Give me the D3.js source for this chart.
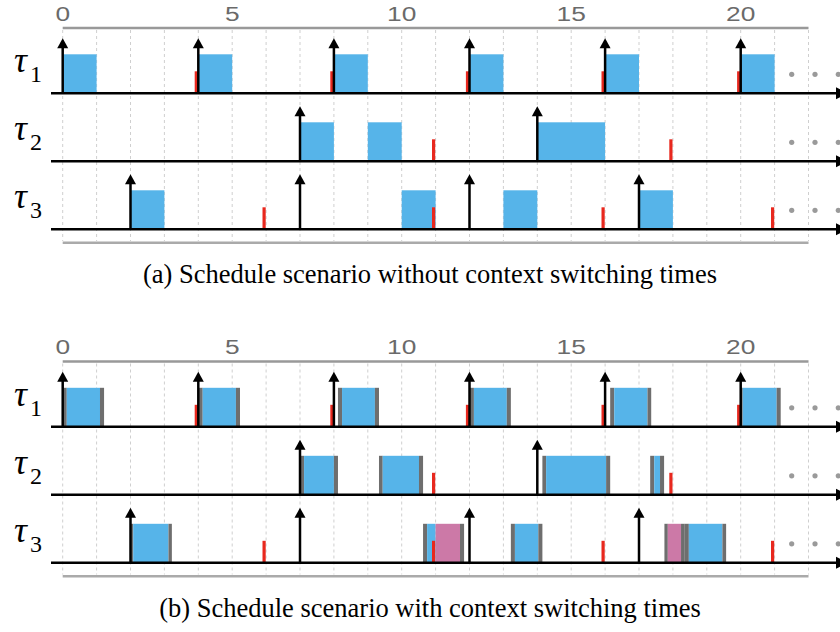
<!DOCTYPE html>
<html>
<head>
<meta charset="utf-8">
<script src="https://cdn.jsdelivr.net/npm/d3@7"></script>
<style>
  body { margin: 0; background: #fff; }
  svg { display: block; }
</style>
</head>
<body>
<script>
// --- data ---
var tickValues = [0, 5, 10, 15, 20];
var taskIds = ["1", "2", "3"];
var releases = [[0, 4, 8, 12, 16, 20], [7, 14], [2, 7, 12, 17]];
var deadlines = [[4, 8, 12, 16, 20], [11, 18], [6, 11, 16, 21]];

// panel (a): plain execution intervals
var execA = [
  [[0, 1], [4, 5], [8, 9], [12, 13], [16, 17], [20, 21]],
  [[7, 8], [9, 10], [14, 16]],
  [[2, 3], [10, 11], [13, 14], [17, 18]]
];

// panel (b): [start, end, kind]  kind: run / cs (context switch) / late
var segB = [
  [[0, 0.12, "cs"], [0.12, 1.1, "run"], [1.1, 1.22, "cs"],
   [4, 4.13, "cs"], [4.13, 5.11, "run"], [5.11, 5.23, "cs"],
   [8.12, 8.24, "cs"], [8.24, 9.21, "run"], [9.21, 9.33, "cs"],
   [12, 12.13, "cs"], [12.13, 13.1, "run"], [13.1, 13.22, "cs"],
   [16.15, 16.27, "cs"], [16.27, 17.25, "run"], [17.25, 17.36, "cs"],
   [20, 20.06, "cs"], [20.06, 21.06, "run"], [21.06, 21.18, "cs"]],
  [[7, 7.12, "cs"], [7.12, 8.0, "run"], [8.0, 8.12, "cs"],
   [9.33, 9.44, "cs"], [9.44, 10.51, "run"], [10.51, 10.63, "cs"],
   [14.15, 14.26, "cs"], [14.26, 16.03, "run"], [16.03, 16.15, "cs"],
   [17.33, 17.45, "cs"], [17.45, 17.62, "run"], [17.62, 17.74, "cs"]],
  [[2, 2.08, "cs"], [2.08, 3.12, "run"], [3.12, 3.22, "cs"],
   [10.63, 10.75, "cs"], [10.75, 11.0, "run"], [11.0, 11.72, "late"], [11.72, 11.84, "cs"],
   [13.22, 13.34, "cs"], [13.34, 14.03, "run"], [14.03, 14.15, "cs"],
   [17.75, 17.85, "cs"], [17.85, 18.24, "late"], [18.24, 18.35, "cs"], [18.35, 18.47, "cs"],
   [18.47, 19.46, "run"], [19.46, 19.57, "cs"]]
];

var captions = [
  "(a) Schedule scenario without context switching times",
  "(b) Schedule scenario with context switching times"
];

// --- layout ---
var width = 840, height = 632;
var panelOffset = [0, 333.5];
var rowBase = [93.3, 161.3, 229.3];
var barH = 39;
var colors = { run: "#56b4e9", cs: "#6e6e6e", late: "#cc79a7" };

var x = d3.scaleLinear().domain([0, 22]).range([62.7, 808.5]);

var svg = d3.select("body").append("svg")
  .attr("width", width)
  .attr("height", height);

function drawPanel(p) {
  var g = svg.append("g").attr("transform", "translate(0," + panelOffset[p] + ")");

  // dotted grid
  g.selectAll(".grid")
    .data(d3.range(0, 23))
    .enter().append("line")
    .attr("x1", function (d) { return x(d); })
    .attr("x2", function (d) { return x(d); })
    .attr("y1", 30)
    .attr("y2", 241)
    .attr("stroke", "#cfcfcf")
    .attr("stroke-width", 1)
    .attr("stroke-dasharray", "3,3");

  // top time axis
  g.append("line")
    .attr("x1", x(0)).attr("x2", x(22))
    .attr("y1", 28).attr("y2", 28)
    .attr("stroke", "#999").attr("stroke-width", 2.5);

  g.selectAll(".tick")
    .data(tickValues)
    .enter().append("text")
    .attr("transform", function (d) { return "translate(" + x(d) + ",20.5) scale(1.35,1)"; })
    .attr("text-anchor", "middle")
    .attr("font-family", "'Liberation Sans', Arial, sans-serif")
    .attr("font-size", 19.5)
    .attr("fill", "#6a6a6a")
    .text(function (d) { return d; });

  // bottom grey line
  g.append("line")
    .attr("x1", x(0)).attr("x2", x(22))
    .attr("y1", 242.7).attr("y2", 242.7)
    .attr("stroke", "#aaa").attr("stroke-width", 2.5);

  taskIds.forEach(function (id, i) {
    var base = rowBase[i];
    var row = g.append("g");

    // execution blocks
    var segs = p == 0
      ? execA[i].map(function (d) { return [d[0], d[1], "run"]; })
      : segB[i];
    row.selectAll(".seg")
      .data(segs)
      .enter().append("rect")
      .attr("x", function (d) { return x(d[0]); })
      .attr("width", function (d) { return x(d[1]) - x(d[0]); })
      .attr("y", base - barH)
      .attr("height", barH)
      .attr("fill", function (d) { return colors[d[2]]; });

    // deadlines
    row.selectAll(".dl")
      .data(deadlines[i])
      .enter().append("rect")
      .attr("x", function (d) { return x(d) - 3.6; })
      .attr("width", 3.2)
      .attr("y", base - 22)
      .attr("height", 22)
      .attr("fill", "#e8281e");

    // baseline with arrow
    row.append("line")
      .attr("x1", 51).attr("x2", 837)
      .attr("y1", base).attr("y2", base)
      .attr("stroke", "#000").attr("stroke-width", 2.5);
    row.append("path")
      .attr("d", "M836," + (base - 6) + "L848," + base + "L836," + (base + 6) + "Z")
      .attr("fill", "#000");

    // releases
    var rel = row.selectAll(".rel")
      .data(releases[i])
      .enter().append("g");
    rel.append("line")
      .attr("x1", function (d) { return x(d); })
      .attr("x2", function (d) { return x(d); })
      .attr("y1", base)
      .attr("y2", base - 46)
      .attr("stroke", "#000").attr("stroke-width", 2.5);
    rel.append("path")
      .attr("d", function (d) {
        var cx = x(d);
        return "M" + (cx - 5.5) + "," + (base - 45) + "L" + cx + "," + (base - 55) +
          "L" + (cx + 5.5) + "," + (base - 45) + "Z";
      })
      .attr("fill", "#000");

    // continuation dots
    row.selectAll(".dot")
      .data([791.7, 815, 838.3])
      .enter().append("circle")
      .attr("cx", function (d) { return d; })
      .attr("cy", base - 19)
      .attr("r", 2.6)
      .attr("fill", "#9a9a9a");

    // task label
    var lbl = row.append("text")
      .attr("font-family", "'Liberation Serif', 'Times New Roman', serif")
      .attr("fill", "#000");
    lbl.append("tspan")
      .attr("x", 14).attr("y", base - 21)
      .attr("font-size", 36)
      .attr("font-style", "italic")
      .text("\u03c4");
    lbl.append("tspan")
      .attr("x", 30).attr("y", base - 11)
      .attr("font-size", 24)
      .text(id);
  });

  // caption
  g.append("text")
    .attr("x", 430)
    .attr("y", 283)
    .attr("text-anchor", "middle")
    .attr("font-family", "'Liberation Serif', 'Times New Roman', serif")
    .attr("font-size", 26.5)
    .attr("fill", "#000")
    .text(captions[p]);
}

drawPanel(0);
drawPanel(1);
</script>
</body>
</html>
